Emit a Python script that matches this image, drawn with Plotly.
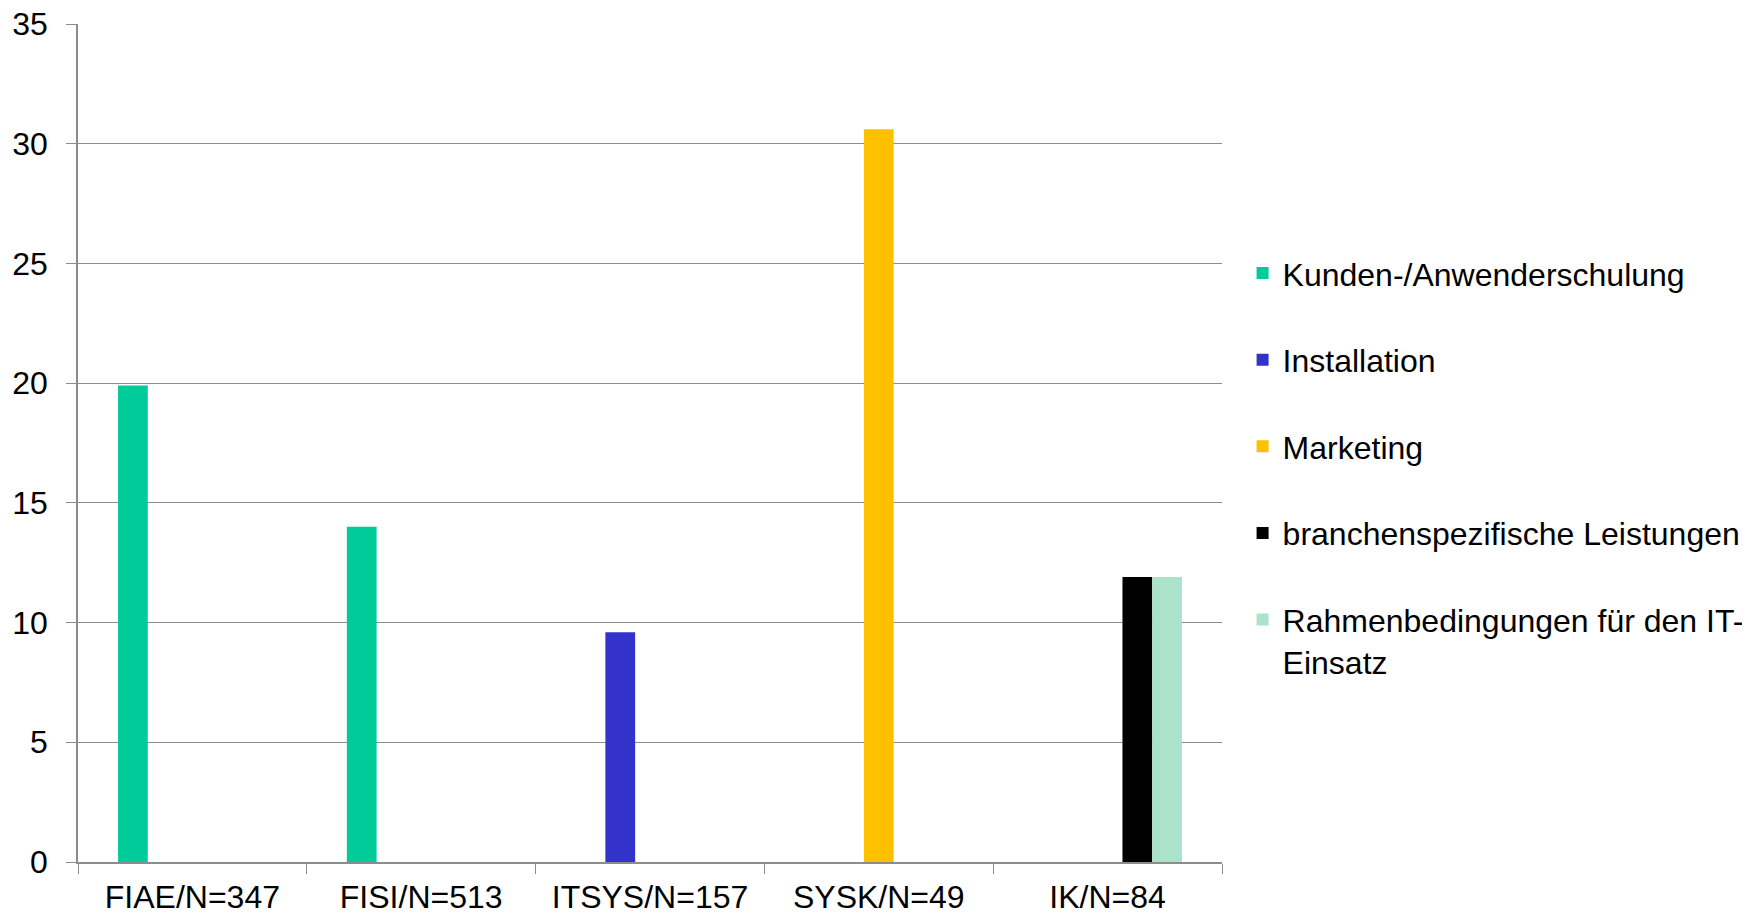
import plotly.graph_objects as go

categories = ["FIAE/N=347", "FISI/N=513", "ITSYS/N=157", "SYSK/N=49", "IK/N=84"]
series_names = [
    "Kunden-/Anwenderschulung",
    "Installation",
    "Marketing",
    "branchenspezifische Leistungen",
    "Rahmenbedingungen für den IT-<br>Einsatz",
]
kunden = [19.9, 14.0, None, None, None]
installation = [None, None, 9.6, None, None]
marketing = [None, None, None, 30.6, None]
branchen = [None, None, None, None, 11.9]
rahmen = [None, None, None, None, 11.9]
series_values = [kunden, installation, marketing, branchen, rahmen]
colors = ["#00CC99", "#3333CC", "#FFC000", "#000000", "#ABE3CA"]

FONT = "Liberation Sans, Arial, sans-serif"

fig = go.Figure()
for i, (name, vals, col) in enumerate(zip(series_names, series_values, colors)):
    fig.add_trace(go.Bar(
        x=categories, y=vals, name=name, marker_color=col,
        marker_line_width=0, legendgroup=f"g{i}",
    ))

fig.update_layout(
    width=1742, height=906,
    margin=dict(l=70, r=528, t=16, b=52, autoexpand=False),
    paper_bgcolor="white", plot_bgcolor="white",
    barmode="group", bargap=0.35, bargroupgap=0,
    font=dict(family=FONT, size=32, color="black"),
    showlegend=True,
    legend=dict(
        x=1.018, xanchor="left", y=0.471, yanchor="middle",
        font=dict(size=32, family=FONT, color="black"),
        tracegroupgap=42, valign="top",
        bgcolor="rgba(0,0,0,0)",
    ),
)
fig.update_xaxes(
    type="category", tickson="boundaries", ticks="outside", ticklen=10,
    tickcolor="#8c8c8c", tickwidth=1.3,
    showline=True, linecolor="#8c8c8c", linewidth=1.5,
    showgrid=False, tickfont=dict(size=32, family=FONT, color="black"),
    ticklabelstandoff=6, ticklabeloverflow="allow",
)
fig.update_yaxes(
    range=[0, 35], dtick=5, tick0=0, ticks="outside", ticklen=10,
    tickcolor="#8c8c8c", tickwidth=1.3,
    showline=True, linecolor="#8c8c8c", linewidth=1.5,
    showgrid=True, gridcolor="#8c8c8c", gridwidth=1.3,
    zeroline=False,
    tickfont=dict(size=32, family=FONT, color="black"),
    ticklabelstandoff=12, ticklabeloverflow="allow",
)

fig.write_html("out.html")
